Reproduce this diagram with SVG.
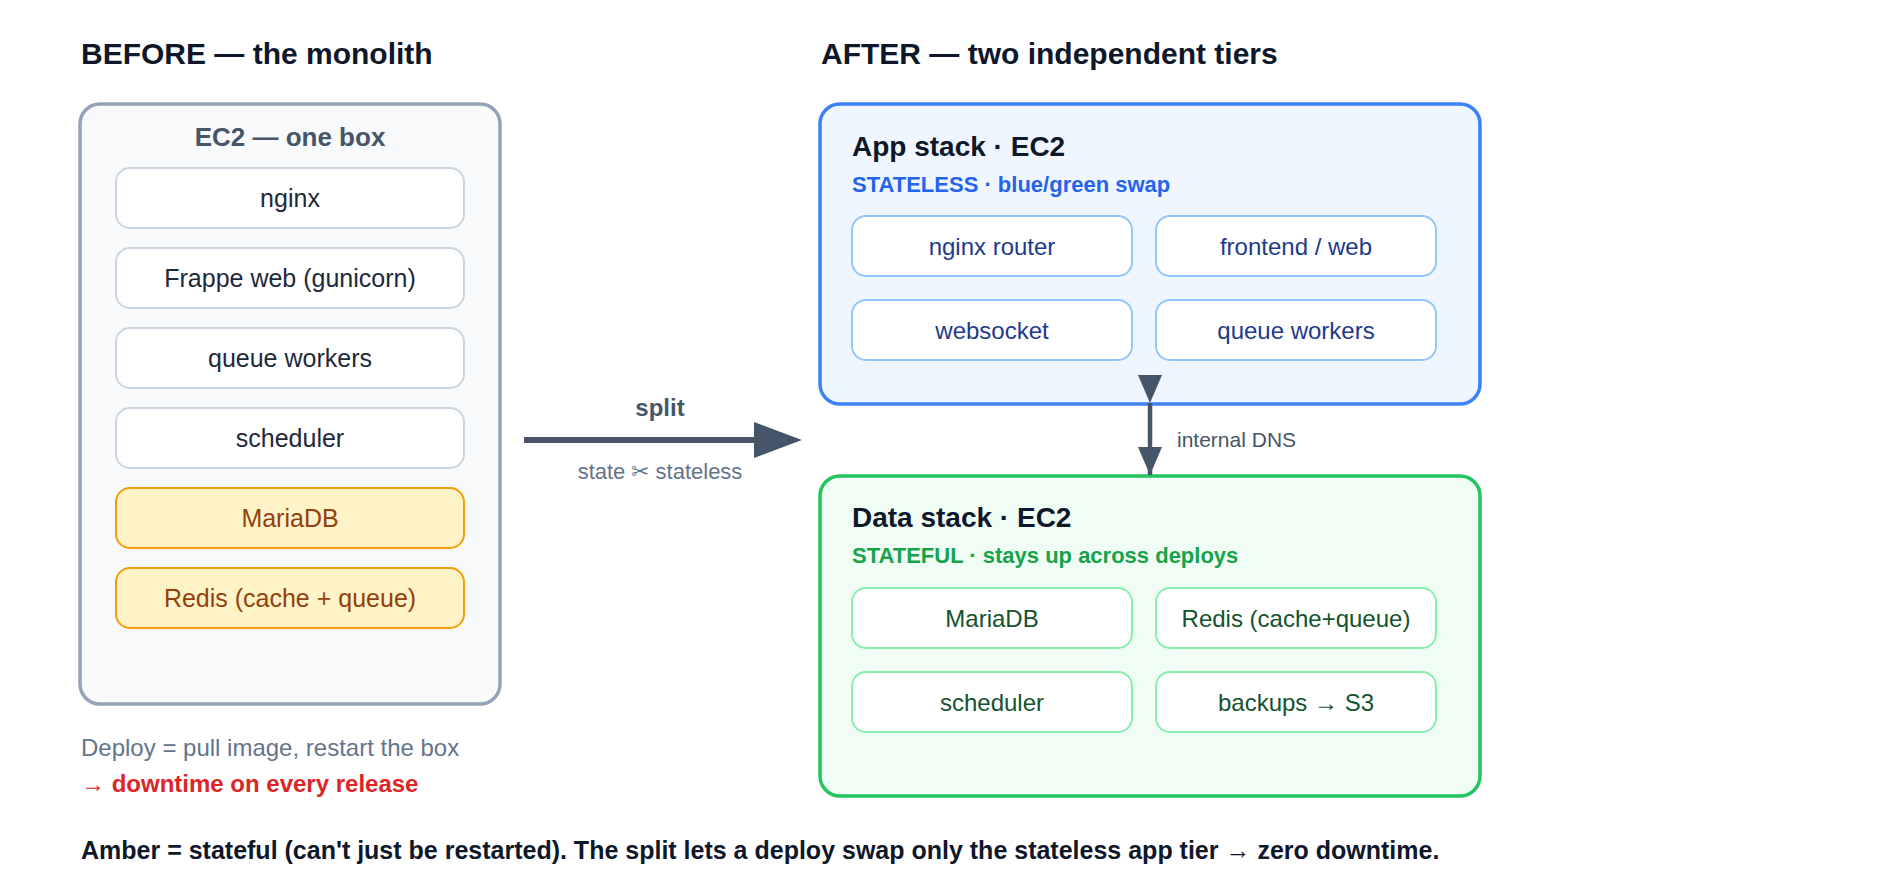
<svg xmlns="http://www.w3.org/2000/svg" width="1880" height="896" viewBox="0 0 1880 896">
<defs>
<style>
text{font-family:"Liberation Sans",Arial,sans-serif}
.h1{font-size:30px;font-weight:bold;fill:#0f172a}
.h2{font-size:28px;font-weight:bold;fill:#0f172a}
.sub{font-size:22px;font-weight:bold}
.lbl{font-size:24px;text-anchor:middle}
.lbl-l{font-size:25px;text-anchor:middle}
.outer{fill:#f8fafc;stroke:#94a3b8;stroke-width:3.5}
.box{fill:#ffffff;stroke:#cbd5e1;stroke-width:2}
.amber{fill:#fef3c7;stroke:#f59e0b;stroke-width:2}
.app{fill:#eff6ff;stroke:#3b82f6;stroke-width:3.5}
.data{fill:#f0fdf4;stroke:#22c55e;stroke-width:3.5}
.abox{fill:#ffffff;stroke:#93c5fd;stroke-width:2}
.dbox{fill:#ffffff;stroke:#86efac;stroke-width:2}
.t-slate{fill:#1e293b}
.t-amber{fill:#92400e}
.t-blue{fill:#1e3a8a}
.t-green{fill:#14532d}
</style>
<marker id="arr" markerUnits="userSpaceOnUse" markerWidth="28" markerHeight="24" viewBox="0 0 28 24" refX="28" refY="12" orient="auto">
<path d="M0,0 L28,12 L0,24 z" fill="#475569"/>
</marker>
</defs>
<rect width="1880" height="896" fill="#ffffff"/>

<text class="h1" x="81" y="64">BEFORE — the monolith</text>
<text class="h1" x="821" y="64">AFTER — two independent tiers</text>

<g id="monolith">
<rect class="outer" x="80" y="104" width="420" height="600" rx="20"/>
<text x="290" y="146" text-anchor="middle" style="font-size:26px;font-weight:bold;fill:#475569">EC2 — one box</text>
</g>
<g id="m-nginx"><rect class="box" x="116" y="168" width="348" height="60" rx="14"/><text class="lbl-l t-slate" x="290" y="207">nginx</text></g>
<g id="m-frappe"><rect class="box" x="116" y="248" width="348" height="60" rx="14"/><text class="lbl-l t-slate" x="290" y="287">Frappe web (gunicorn)</text></g>
<g id="m-queue"><rect class="box" x="116" y="328" width="348" height="60" rx="14"/><text class="lbl-l t-slate" x="290" y="367">queue workers</text></g>
<g id="m-scheduler"><rect class="box" x="116" y="408" width="348" height="60" rx="14"/><text class="lbl-l t-slate" x="290" y="447">scheduler</text></g>
<g id="m-mariadb"><rect class="amber" x="116" y="488" width="348" height="60" rx="14"/><text class="lbl-l t-amber" x="290" y="527">MariaDB</text></g>
<g id="m-redis"><rect class="amber" x="116" y="568" width="348" height="60" rx="14"/><text class="lbl-l t-amber" x="290" y="607">Redis (cache + queue)</text></g>

<text x="81" y="756" style="font-size:24px;fill:#64748b">Deploy = pull image, restart the box</text>
<text x="81" y="792" style="font-size:24px;font-weight:bold;fill:#dc2626">→ downtime on every release</text>

<g id="app-stack">
<rect class="app" x="820" y="104" width="660" height="300" rx="20"/>
<text class="h2" x="852" y="156">App stack · EC2</text>
<text class="sub" x="852" y="192" fill="#2563eb">STATELESS · blue/green swap</text>
</g>
<g id="a-nginx"><rect class="abox" x="852" y="216" width="280" height="60" rx="14"/><text class="lbl t-blue" x="992" y="255">nginx router</text></g>
<g id="a-frontend"><rect class="abox" x="1156" y="216" width="280" height="60" rx="14"/><text class="lbl t-blue" x="1296" y="255">frontend / web</text></g>
<g id="a-websocket"><rect class="abox" x="852" y="300" width="280" height="60" rx="14"/><text class="lbl t-blue" x="992" y="339">websocket</text></g>
<g id="a-queue"><rect class="abox" x="1156" y="300" width="280" height="60" rx="14"/><text class="lbl t-blue" x="1296" y="339">queue workers</text></g>

<g id="data-stack">
<rect class="data" x="820" y="476" width="660" height="320" rx="20"/>
<text class="h2" x="852" y="527">Data stack · EC2</text>
<text class="sub" x="852" y="563" fill="#16a34a">STATEFUL · stays up across deploys</text>
</g>
<g id="d-mariadb"><rect class="dbox" x="852" y="588" width="280" height="60" rx="14"/><text class="lbl t-green" x="992" y="627">MariaDB</text></g>
<g id="d-redis"><rect class="dbox" x="1156" y="588" width="280" height="60" rx="14"/><text class="lbl t-green" x="1296" y="627">Redis (cache+queue)</text></g>
<g id="d-scheduler"><rect class="dbox" x="852" y="672" width="280" height="60" rx="14"/><text class="lbl t-green" x="992" y="711">scheduler</text></g>
<g id="d-backups"><rect class="dbox" x="1156" y="672" width="280" height="60" rx="14"/><text class="lbl t-green" x="1296" y="711">backups → S3</text></g>

<g id="connectors">
<line x1="524" y1="440" x2="760" y2="440" stroke="#475569" stroke-width="6"/>
<polygon points="754,422 802,440 754,458" fill="#475569"/>
<text x="660" y="416" text-anchor="middle" style="font-size:24px;font-weight:bold;fill:#475569">split</text>
<text x="660" y="479" text-anchor="middle" style="font-size:22px;fill:#64748b">state ✂ stateless</text>
<line x1="1150" y1="403" x2="1150" y2="475" stroke="#475569" stroke-width="4.5" marker-start="url(#arr)" marker-end="url(#arr)"/>
<text x="1177" y="447" style="font-size:21px;fill:#475569">internal DNS</text>
</g>

<text x="81" y="859" style="font-size:25px;font-weight:bold;fill:#0f172a">Amber = stateful (can't just be restarted). The split lets a deploy swap only the stateless app tier → zero downtime.</text>
</svg>
